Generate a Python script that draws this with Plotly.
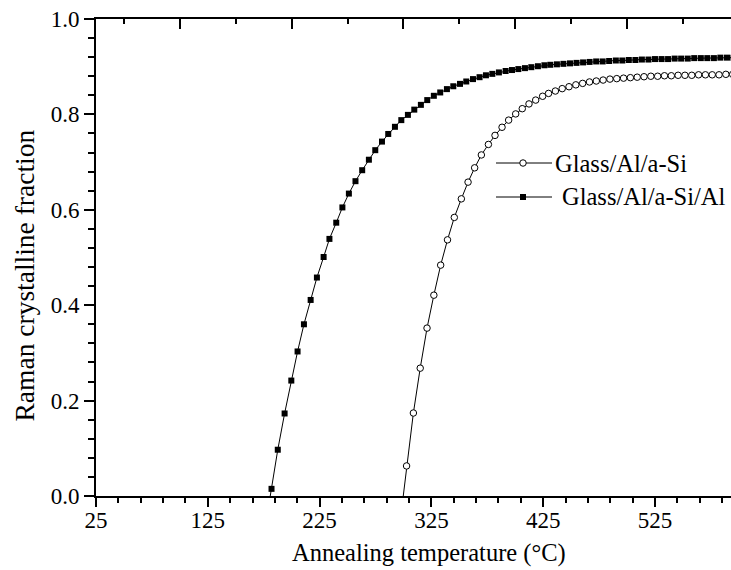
import plotly.graph_objects as go

# Glass/Al/a-Si/Al (filled squares)
temp_sq = [176.0, 182.0, 187.6, 193.7, 199.7, 205.3, 211.0, 217.0, 222.6, 228.6, 233.8,
           239.9, 245.4, 251.2, 257.1, 263.1, 269.1, 274.8, 280.8, 286.4, 292.4,
           298.1, 304.0, 309.7, 315.6, 321.3, 327.2, 332.9, 338.9, 344.6, 350.6,
           356.2, 362.2, 368.1, 373.8, 379.5, 385.4, 391.4, 397.1, 402.8, 408.7,
           414.4, 420.3, 426.1, 431.4, 437.3, 443.1, 449.0, 454.8, 460.7, 466.5,
           472.4, 478.2, 484.0, 490.0, 495.8, 501.6, 507.5, 513.3, 519.2, 525.0,
           530.9, 536.7, 542.6, 548.4, 554.3, 560.1, 566.0, 571.8, 577.7, 583.5,
           589.4, 595.2]
frac_sq = [-0.070, 0.015, 0.097, 0.173, 0.242, 0.303, 0.360, 0.411, 0.458, 0.501, 0.539,
           0.573, 0.605, 0.634, 0.660, 0.683, 0.705, 0.725, 0.743, 0.759, 0.774,
           0.788, 0.799, 0.810, 0.820, 0.830, 0.839, 0.846, 0.853, 0.859, 0.864,
           0.869, 0.874, 0.878, 0.882, 0.885, 0.888, 0.891, 0.893, 0.895, 0.897,
           0.899, 0.901, 0.903, 0.904, 0.905, 0.906, 0.907, 0.908, 0.909, 0.910,
           0.911, 0.911, 0.912, 0.913, 0.913, 0.914, 0.914, 0.915, 0.915, 0.916,
           0.916, 0.916, 0.917, 0.917, 0.917, 0.918, 0.918, 0.918, 0.918, 0.919,
           0.919, 0.919]

# Glass/Al/a-Si (open circles)
temp_ci = [296.7, 302.8, 308.9, 315.0, 321.1, 327.2, 333.3, 339.4, 345.5, 351.8, 357.8,
           363.7, 369.7, 376.0, 381.9, 388.2, 394.1, 400.4, 406.3, 412.3, 418.3,
           424.5, 429.8, 435.9, 442.0, 448.1, 454.2, 460.3, 466.4, 472.5, 478.6,
           484.7, 490.8, 496.9, 503.0, 509.1, 515.2, 521.3, 527.4, 533.5, 539.6,
           545.7, 551.8, 557.9, 564.0, 570.1, 576.2, 582.3, 588.4, 594.5]
frac_ci = [-0.060, 0.063, 0.174, 0.268, 0.352, 0.421, 0.484, 0.537, 0.584, 0.623, 0.658,
           0.688, 0.715, 0.737, 0.756, 0.773, 0.788, 0.801, 0.812, 0.822, 0.830,
           0.838, 0.844, 0.849, 0.854, 0.858, 0.862, 0.865, 0.868, 0.870, 0.872,
           0.874, 0.875, 0.876, 0.877, 0.878, 0.879, 0.880, 0.880, 0.881, 0.881,
           0.882, 0.882, 0.882, 0.883, 0.883, 0.883, 0.883, 0.884, 0.884]

x_ticks = [25, 125, 225, 325, 425, 525]
y_ticks = [0.0, 0.2, 0.4, 0.6, 0.8, 1.0]
y_tick_text = ["0.0", "0.2", "0.4", "0.6", "0.8", "1.0"]
series_names = ["Glass/Al/a-Si", "Glass/Al/a-Si/Al"]

FONT = "'Liberation Serif', 'Times New Roman', 'DejaVu Serif', serif"
W, H = 731, 570
ML, MR, MT, MB = 96, 0, 19, 74
X_RANGE = [25, 593.0]

fig = go.Figure()
fig.add_trace(go.Scatter(
    x=temp_ci, y=frac_ci, mode="lines+markers", name=series_names[0],
    line=dict(color="black", width=1),
    marker=dict(symbol="circle", size=6.5, color="white",
                line=dict(color="black", width=1)),
    showlegend=False))
fig.add_trace(go.Scatter(
    x=temp_sq, y=frac_sq, mode="lines+markers", name=series_names[1],
    line=dict(color="black", width=1),
    marker=dict(symbol="square", size=6, color="black",
                line=dict(color="black", width=0)),
    showlegend=False))


def px2paper(px, py):
    return (px - ML) / (W - ML - MR), (H - MB - py) / (H - MT - MB)


# manual legend drawn on an overlay axis spanning the plot area
leg_rows = [(163, "circle", "white", series_names[0], 553),
            (197, "square", "black", series_names[1], 560)]
for py, sym, fill, name, tx in leg_rows:
    x0, yy = px2paper(496, py)
    x1, _ = px2paper(552, py)
    xm, _ = px2paper(523, py)
    fig.add_trace(go.Scatter(
        x=[x0, x1], y=[yy, yy], mode="lines", xaxis="x3", yaxis="y3",
        line=dict(color="black", width=1), showlegend=False, hoverinfo="skip"))
    fig.add_trace(go.Scatter(
        x=[xm], y=[yy], mode="markers", xaxis="x3", yaxis="y3",
        marker=dict(symbol=sym, size=6.5 if sym == "circle" else 6, color=fill,
                    line=dict(color="black", width=1 if sym == "circle" else 0)),
        showlegend=False, hoverinfo="skip"))
    tx_p, _ = px2paper(tx, py)
    fig.add_annotation(x=tx_p, y=yy, xref="paper", yref="paper", text=name,
                       showarrow=False, xanchor="left", yanchor="middle",
                       font=dict(family=FONT, size=24.5, color="black"))

tick_font = dict(family=FONT, size=23, color="black")
fig.update_layout(
    width=W, height=H,
    margin=dict(l=ML, r=MR, t=MT, b=MB, pad=0),
    paper_bgcolor="white", plot_bgcolor="white",
    showlegend=False,
    font=dict(family=FONT, color="black"),
    # bottom axis: labels + minor ticks (short major tick so labels sit close)
    xaxis=dict(range=X_RANGE, tickmode="array", tickvals=x_ticks,
               ticktext=[str(v) for v in x_ticks],
               ticks="outside", ticklen=2, tickwidth=1.5, tickcolor="black",
               minor=dict(tickmode="linear", tick0=25, dtick=20, ticks="outside",
                          ticklen=5, tickwidth=1.5, tickcolor="black"),
               showline=True, linecolor="black", linewidth=2, showgrid=False,
               zeroline=False, tickfont=tick_font),
    # bottom axis: long major ticks only
    xaxis4=dict(range=X_RANGE, overlaying="x", side="bottom", anchor="y",
                tickmode="array", tickvals=x_ticks, ticks="outside", ticklen=10,
                tickwidth=1.5, tickcolor="black", showticklabels=False,
                showline=False, showgrid=False, zeroline=False),
    xaxis2=dict(range=X_RANGE, overlaying="x", side="top", tickmode="linear",
                tick0=0, dtick=100, ticks="inside", ticklen=10, tickwidth=1.5,
                tickcolor="black",
                minor=dict(tickmode="linear", tick0=0, dtick=50, ticks="inside",
                           ticklen=5, tickwidth=1.5, tickcolor="black"),
                showticklabels=False, showline=True, linecolor="black",
                linewidth=2, showgrid=False, zeroline=False),
    yaxis=dict(range=[0, 1], tickmode="array", tickvals=y_ticks,
               ticktext=y_tick_text,
               ticks="outside", ticklen=10, tickwidth=1.5, tickcolor="black",
               minor=dict(tickmode="linear", tick0=0, dtick=0.04, ticks="outside",
                          ticklen=6, tickwidth=1.5, tickcolor="black"),
               showline=True, linecolor="black", linewidth=2, showgrid=False,
               zeroline=False, tickfont=tick_font),
    xaxis3=dict(range=[0, 1], overlaying="x", visible=False, domain=[0, 1]),
    yaxis3=dict(range=[0, 1], overlaying="y", visible=False, domain=[0, 1]),
)
fig.add_trace(go.Scatter(x=[X_RANGE[0]], y=[None], xaxis="x2", showlegend=False,
                         hoverinfo="skip"))
fig.add_trace(go.Scatter(x=[X_RANGE[0]], y=[None], xaxis="x4", showlegend=False,
                         hoverinfo="skip"))

fig.add_annotation(x=px2paper(428.5, 0)[0], y=px2paper(0, 553)[1], xref="paper",
                   yref="paper", text="Annealing temperature (°C)", showarrow=False,
                   xanchor="center", yanchor="middle",
                   font=dict(family=FONT, size=24.5, color="black"))
fig.add_annotation(x=px2paper(24, 0)[0], y=px2paper(0, 275.5)[1], xref="paper",
                   yref="paper", text="Raman crystalline fraction", showarrow=False,
                   textangle=-90, xanchor="center", yanchor="middle",
                   font=dict(family=FONT, size=27.5, color="black"))

fig.write_html("out.html")
